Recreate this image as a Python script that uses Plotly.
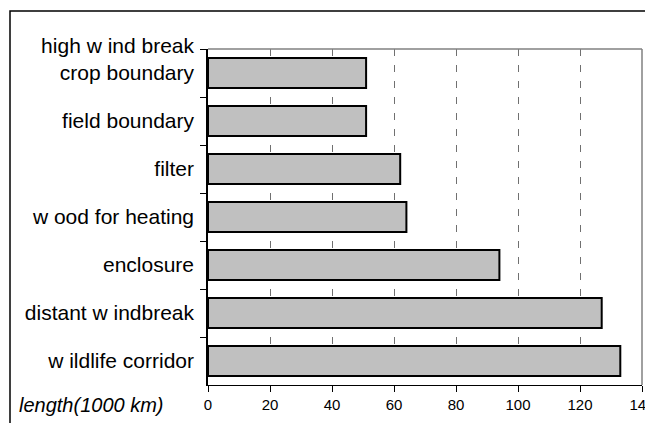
import plotly.graph_objects as go

categories = ["high w ind break<br>crop boundary<br> ", "field boundary", "filter",
              "w ood for heating", "enclosure", "distant w indbreak", "w ildlife corridor"]
values = [51, 51, 62, 64, 94, 127, 133]
x_ticks = [0, 20, 40, 60, 80, 100, 120, 140]
x_title = "length(1000 km)"

OFF = 8  # page body margin offset
W, H = 653, 423
L, T = 208 - OFF, 49 - OFF
R = W - (642 - OFF)
B = H - (385 - OFF)
pw, ph = W - L - R, H - T - B

def px_x(p):
    return (p - OFF - L) / pw

def px_y(p):
    return (H - B - (p - OFF)) / ph

fig = go.Figure(go.Bar(
    x=values, y=categories, orientation="h",
    marker=dict(color="#c0c0c0", line=dict(color="black", width=2)),
    width=0.62,
))

fig.update_layout(
    width=W, height=H,
    margin=dict(l=L, r=R, t=T, b=B, autoexpand=False),
    plot_bgcolor="white", paper_bgcolor="white",
    font=dict(family="Liberation Sans, Arial, sans-serif", color="black"),
    showlegend=False,
    bargap=0.375,
)

fig.update_xaxes(
    range=[0, 140], tickvals=x_ticks, ticktext=[str(v) for v in x_ticks],
    showgrid=True, gridcolor="#707070", griddash="7px,9px", gridwidth=1.2,
    showline=True, linecolor="black", linewidth=1,
    ticks="outside", ticklen=6, tickcolor="black",
    tickfont=dict(size=15), zeroline=False,
    automargin=False, ticklabeloverflow="allow",
)
fig.update_yaxes(
    range=[6.5, -0.5], type="category",
    showgrid=False, showline=True, linecolor="black", linewidth=1.5,
    ticks="outside", ticklen=6, tickcolor="black", tickson="boundaries",
    tickfont=dict(size=21), ticklabelstandoff=8,
    automargin=False, ticklabeloverflow="allow",
)

# top and right gray border of plot area
fig.add_shape(type="line", xref="paper", yref="paper", x0=0, x1=1, y0=1, y1=1,
              line=dict(color="#808080", width=1.5))
fig.add_shape(type="line", xref="paper", yref="paper", x0=1, x1=1, y0=0, y1=1,
              line=dict(color="#808080", width=1.5))

# outer chart frame (extends beyond the visible page)
fig.add_shape(type="rect", xref="paper", yref="paper",
              x0=px_x(10), x1=px_x(720), y0=px_y(480), y1=px_y(11),
              line=dict(color="black", width=1.5), fillcolor="rgba(0,0,0,0)")

fig.add_annotation(text=x_title, xref="paper", yref="paper",
                   x=px_x(17), y=px_y(405), xanchor="left", yanchor="middle",
                   showarrow=False, font=dict(size=20, style="italic"))

fig.write_html("out.html")
